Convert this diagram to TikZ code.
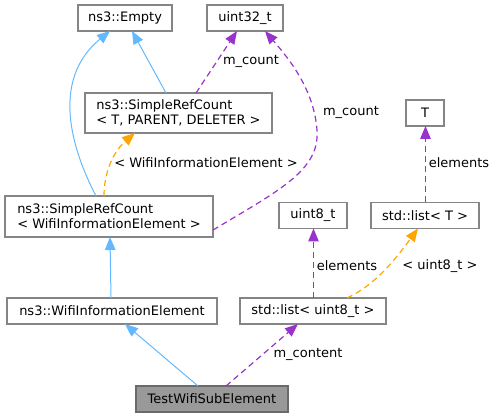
\documentclass[tikz,border=0pt]{standalone}
\usepackage{fontspec}
\setmainfont{DejaVu Sans}
\usetikzlibrary{arrows.meta}
\definecolor{inhblue}{HTML}{63B8FF}
\definecolor{usepurple}{HTML}{9A32CD}
\definecolor{tmplorange}{HTML}{FFA500}
\definecolor{boxgray}{HTML}{858585}
\definecolor{hlgray}{HTML}{999999}
\tikzset{
  cls/.style={draw=boxgray, line width=1.3pt, fill=white, inner sep=0pt, outer sep=0pt,
    font=\fontsize{13}{15}\selectfont, align=left},
  hl/.style={cls, fill=hlgray, draw=boxgray!80!black},
  lbl/.style={font=\fontsize{13}{15}\selectfont, inner sep=0pt},
  tip/.style={-{Triangle[length=13pt,width=10.5pt]}},
  inh/.style={draw=inhblue, line width=1pt, tip},
  usage/.style={draw=usepurple, line width=1.2pt, dash pattern=on 6pt off 4pt, tip},
  tmpl/.style={draw=tmplorange, line width=1.2pt, dash pattern=on 6pt off 4pt, tip}
}
\begin{document}
\begin{tikzpicture}[x=1pt,y=-1pt]
\useasboundingbox (0,0) rectangle (496,417);
% nodes
\node[cls, minimum width=94pt, minimum height=26pt] (empty) at (125,18) {ns3::Empty};
\node[cls, minimum width=76pt, minimum height=26pt] (u32) at (245,18) {uint32\_t};
\node[cls, minimum width=187pt, minimum height=40pt] (srcT) at (178.5,113) {ns3::SimpleRefCount\\< T, PARENT, DELETER >};
\node[cls, minimum width=38pt, minimum height=26pt] (T) at (425,113) {T};
\node[cls, minimum width=208pt, minimum height=41pt] (srcW) at (109,216.5) {ns3::SimpleRefCount\\< WifiInformationElement >};
\node[cls, minimum width=68pt, minimum height=26pt] (u8) at (313,215.5) {uint8\_t};
\node[cls, minimum width=108pt, minimum height=26pt] (listT) at (425,215.5) {std::list< T >};
\node[cls, minimum width=210pt, minimum height=26pt] (wie) at (112,311) {ns3::WifiInformationElement};
\node[cls, minimum width=146pt, minimum height=26pt] (listu8) at (313,311) {std::list< uint8\_t >};
\node[hl, minimum width=152pt, minimum height=26pt] (test) at (212,399) {TestWifiSubElement};
% connectors
\draw[inh] ([xshift=-13pt]srcW.north) .. controls (72,150) and (50,80) .. ([xshift=-15pt]empty.south);
\draw[inh] ([xshift=-12.5pt]srcT.north) -- ([xshift=7pt]empty.south);
\draw[usage] ([xshift=17.5pt]srcT.north) -- ([xshift=-8pt]u32.south);
\node[lbl] (l1) at (251,61) {m\_count};
\draw[usage] ([yshift=-13.5pt]srcW.east) .. controls (280,190) and (320,170) .. (317,130) .. controls (314,90) and (290,60) .. ([xshift=20pt]u32.south);
\node[lbl] (l2) at (351,112) {m\_count};
\draw[tmpl] ([xshift=-5pt]srcW.north) .. controls (104,170) and (115,150) .. ([xshift=-43.5pt]srcT.south);
\node[lbl] (l3) at (206,163) {< WifiInformationElement >};
\draw[inh] ([xshift=-1pt]wie.north) -- ([xshift=1pt]srcW.south);
\draw[usage] ([xshift=0.5pt]listT.north) -- ([xshift=0.5pt]T.south);
\node[lbl] (l4) at (459,163) {elements};
\draw[usage] ([xshift=0.5pt]listu8.north) -- ([xshift=0.5pt]u8.south);
\node[lbl] (l5) at (347,266) {elements};
\draw[tmpl] ([xshift=34pt]listu8.north) .. controls (375,285) and (395,260) .. ([xshift=-7pt]listT.south);
\node[lbl] (l6) at (440,266) {< uint8\_t >};
\draw[inh] ([xshift=-14pt]test.north) -- ([xshift=13pt]wie.south);
\draw[usage] ([xshift=14pt]test.north) -- ([xshift=-15pt]listu8.south);
\node[lbl] (l7) at (308,354) {m\_content};
\end{tikzpicture}
\end{document}
